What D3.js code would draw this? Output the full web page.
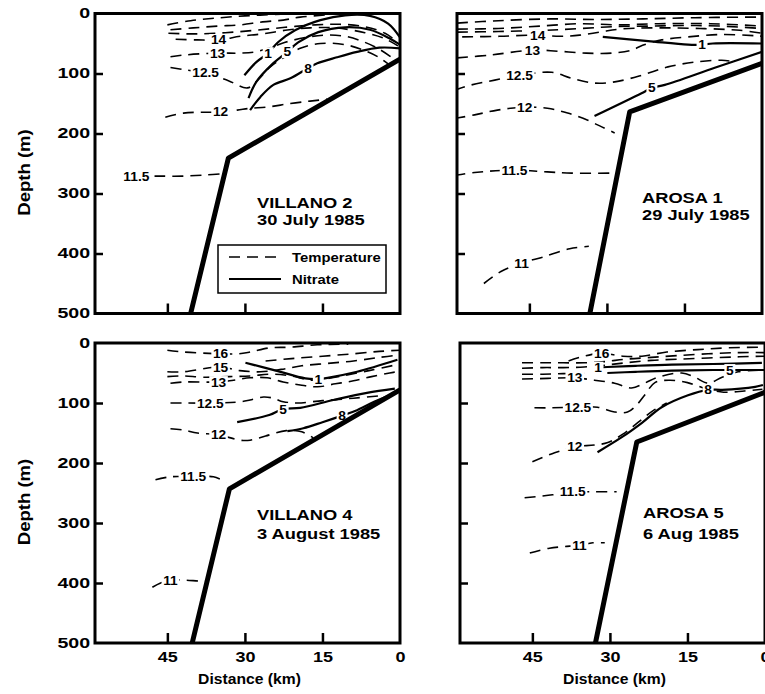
<!DOCTYPE html>
<html>
<head>
<meta charset="utf-8">
<script src="https://cdn.jsdelivr.net/npm/d3@7"></script>
<style>
  body { margin: 0; background: #fff; }
  text { font-family: "Liberation Sans", Arial, sans-serif; font-weight: bold; fill: #000; }
</style>
</head>
<body>
<svg id="chart"></svg>
<script>
// ticks y textos
const distanceTicks = [45, 30, 15, 0];
const depthTicks = [0, 100, 200, 300, 400, 500];
const panelNames = ["VILLANO 2", "AROSA 1", "VILLANO 4", "AROSA 5"];
const panelDates = ["30 July 1985", "29 July 1985", "3 August 1985", "6 Aug 1985"];
const legendItems = ["Temperature", "Nitrate"];

// fondo: [distancia km, profundidad m]
const villano2Bottom = [[40.5, 500], [33.2, 241], [0, 76]];
const arosa1Bottom = [[33.3, 500], [25.6, 164], [0, 83]];
const villano4Bottom = [[40.2, 500], [33, 243], [0, 78]];
const arosa5Bottom = [[32.8, 500], [24.8, 165], [0, 82]];

// isolineas: [etiqueta, punto de la etiqueta, puntos]
const villano2Temp = [
  ["", -1, [[45, 19], [40.5, 12], [36, 8], [30, 4], [23, 1]]],
  ["", -1, [[44.4, 27], [40, 24], [35.3, 21], [30.9, 19], [26.6, 14], [22.6, 11], [19.3, 6], [13.5, 2]]],
  ["", -1, [[44.8, 33], [39.6, 34], [33.8, 32], [28, 28], [22.2, 23], [16.4, 19], [11.6, 18], [6.8, 22], [2.9, 33], [0.4, 48]]],
  ["14", 2, [[43.4, 43], [39.2, 44], [35.1, 44], [30.9, 38], [26.6, 34], [22.2, 28], [17.4, 24], [12.5, 24], [6.8, 32], [2.9, 42], [0.4, 54]]],
  ["13", 2, [[44.4, 72], [41.5, 69], [35.3, 66], [30.9, 66], [28, 64], [25.5, 58], [22.2, 48], [18.3, 40], [14.5, 36], [10.6, 38], [6.8, 48], [3.9, 60], [1.8, 72]]],
  ["12.5", 2, [[44.4, 90], [41.5, 94], [37.6, 99], [33.2, 112], [29.5, 124], [27.4, 110], [25.1, 89], [22.2, 72], [19.3, 58], [15.4, 50], [10.6, 52], [6.8, 62], [3.9, 74], [2.3, 84]]],
  ["12", 2, [[45.4, 173], [41.9, 166], [34.7, 164], [31.5, 161], [29, 158], [25.7, 156], [21.2, 150], [17.4, 146], [14.1, 143]]],
  ["11.5", 0, [[51, 271], [47, 271], [42, 271], [37.5, 269], [34.2, 267]]]
];
const villano2Nitrate = [
  ["1", 2, [[30.1, 103], [27.8, 81], [25.5, 66], [23.6, 48], [20.3, 28], [15.4, 11], [10.6, 3], [5.8, 4], [2.3, 17], [0, 40]]],
  ["5", 3, [[29.3, 141], [27.8, 114], [24.9, 86], [21.8, 64], [19.7, 48], [15.8, 31], [10.6, 23], [5.8, 27], [1.9, 42], [0, 52]]],
  ["8", 4, [[29, 161], [27, 139], [24.5, 119], [21.2, 108], [17.8, 91], [16, 83], [12.2, 73], [8.3, 64], [4, 57], [0, 58]]]
];

const arosa1Temp = [
  ["", -1, [[59, 16], [51, 12], [41, 9], [32, 10], [23, 9], [13, 7], [2, 6], [0, 6]]],
  ["", -1, [[59, 26], [51, 25], [43, 21], [35, 17], [28, 19], [20, 17], [10, 17], [0, 21]]],
  ["", -1, [[59, 31], [51, 30], [42, 28], [35, 25], [29, 22], [22, 21], [15, 20], [8, 21], [0, 25]]],
  ["14", 2, [[58, 39], [50.8, 38], [43.4, 36], [39.1, 38], [35.3, 36], [31.4, 31], [27.5, 26], [21.7, 24], [12, 25], [4.3, 28], [0, 33]]],
  ["13", 2, [[59, 74], [52.3, 69], [44.4, 61], [39.2, 63], [34, 66], [29, 66], [25.2, 61], [23.1, 53], [19.4, 44], [14.3, 39], [7.8, 35], [1.4, 37], [0, 38]]],
  ["12.5", 3, [[59.5, 128], [56.2, 119], [51.7, 111], [46.9, 103], [40.7, 98], [36.8, 108], [32.4, 116], [28.5, 114], [23.3, 103], [18.2, 89], [13, 81], [7.8, 78], [5.8, 80]]],
  ["12", 3, [[59.5, 175], [55.6, 169], [51.2, 161], [45.9, 156], [41.5, 158], [37.6, 166], [33.7, 178], [31, 189], [28.5, 199]]],
  ["11.5", 2, [[59.5, 270], [55.6, 265], [47.9, 261], [41.5, 264], [36.8, 266], [29.5, 266]]],
  ["11", 2, [[53.8, 450], [50.5, 430], [46.5, 416], [42.4, 406], [37.2, 392], [33.5, 388]]]
];
const arosa1Nitrate = [
  ["1", 3, [[30.8, 39], [22, 46], [14.3, 52], [11.6, 52], [9.5, 50], [0, 50]]],
  ["5", 2, [[32.4, 171], [23.3, 133], [21.3, 124], [18.8, 119], [9, 90], [0, 64]]]
];

const villano4Temp = [
  ["16", 2, [[45, 12], [41.9, 15], [34.7, 18], [31.3, 18], [29, 15], [25.1, 8], [21.2, 7], [16, 3], [10, 2]]],
  ["", -1, [[26, 30], [21, 26], [15, 22], [9, 18], [4, 14], [0, 12]]],
  ["15", 2, [[45, 48], [41.9, 48], [34.7, 40], [31, 46], [27, 48], [23, 44], [19, 38], [14, 34], [9, 30], [4, 24], [0, 20]]],
  ["", -1, [[45, 56], [42, 55], [38, 57], [33, 56], [29, 55], [25, 52], [21, 55], [17, 62], [12, 56], [6, 46], [0, 35]]],
  ["13", 2, [[44.4, 67], [41.9, 65], [35.1, 65], [32.2, 62], [29, 58], [25.7, 58], [22.6, 65], [19.3, 70], [16, 73], [12.5, 68], [9, 63], [5.5, 56], [2, 50], [0, 47]]],
  ["12.5", 2, [[44.4, 100], [41.9, 100], [36.7, 100], [30.9, 98], [29, 95], [26.4, 90], [24.5, 92], [22.6, 98], [19.9, 100], [15, 96], [9, 92], [4, 88]]],
  ["12", 3, [[44.4, 143], [41.9, 145], [39.2, 150], [35.1, 153], [30.9, 162], [29, 162], [26, 155], [22, 146], [19, 148], [16.8, 158]]],
  ["11.5", 2, [[47.3, 228], [44.4, 223], [40, 223], [36.1, 223], [33.6, 232]]],
  ["11", 2, [[47.9, 407], [46.3, 400], [44.4, 395], [41.9, 395], [38.6, 397], [37.6, 397]]]
];
const villano4Nitrate = [
  ["1", 3, [[29.9, 33], [24, 46], [18.3, 59], [15.8, 60], [14, 58], [8.3, 48], [0.5, 28]]],
  ["5", 2, [[31.5, 132], [25.3, 120], [22.6, 110], [19.3, 108], [12.9, 95], [6.4, 83], [1, 76]]],
  ["8", 3, [[21.8, 147], [18.7, 142], [15, 132], [11.2, 121], [8.3, 112], [5, 98], [2, 87]]]
];

const arosa5Temp = [
  ["16", 2, [[38, 30], [35, 22], [31.6, 17], [27.5, 22], [23.8, 22], [19, 15], [13, 11], [7, 8], [0, 7]]],
  ["", -1, [[47, 33], [43, 33], [39, 33], [35, 33], [31, 31], [27, 27], [22, 24], [17, 21], [11, 18], [5, 16], [0, 16]]],
  ["", -1, [[47, 42], [43, 41], [39, 41], [35, 40], [31, 37], [27, 33], [22, 29], [17, 27], [11, 25], [5, 23], [0, 22]]],
  ["", -1, [[47, 52], [43, 52], [39, 51], [35, 50]]],
  ["13", 2, [[47, 60], [42, 59], [36.8, 58], [33, 62], [29.1, 67], [25.8, 75], [23.3, 67], [20.7, 57], [16.1, 50], [13.6, 57], [11, 67], [8.3, 57], [5.2, 48], [0.6, 45]]],
  ["12.5", 2, [[44.6, 108], [41.3, 108], [36.2, 107], [32.4, 107], [29.1, 115], [26.6, 115], [24.8, 103], [23.3, 87], [21.3, 66], [18.5, 62], [15, 66], [11.5, 76], [8, 82], [4, 80], [0.5, 77]]],
  ["12", 2, [[45, 198], [40.7, 183], [36.8, 173], [33, 170], [30.4, 166], [27.5, 152], [24.5, 132], [21.5, 112], [19, 100]]],
  ["11.5", 2, [[46.5, 258], [41.1, 253], [37.2, 248], [32.9, 248], [28.7, 248]]],
  ["11", 2, [[45.5, 350], [41.7, 342], [35.9, 337], [33.3, 333], [31, 333]]]
];
const arosa5Nitrate = [
  ["1", 0, [[32.3, 41], [30.5, 40], [25, 38], [18, 36], [10, 35], [0.6, 33]]],
  ["5", 4, [[30.5, 50], [25, 48], [18, 46], [10, 45], [6.8, 45], [3, 45], [0, 45]]],
  ["8", 5, [[32.4, 182], [27.7, 157], [23.8, 133], [20, 107], [14.9, 87], [11, 78], [8.3, 78], [1.9, 73], [0.4, 70]]]
];

// Tamaño
const width = 765;
const height = 694;
const panelW = 305;
const panelH = 300;

const svg = d3.select("#chart")
  .attr("width", width)
  .attr("height", height);

const panels = [
  { left: 95, top: 13.5, bottom: villano2Bottom, temp: villano2Temp, nitrate: villano2Nitrate,
    titleX: 162, titleY: 194.5, dateY: 211.5, yLabels: true, xLabels: false, legend: true },
  { left: 457, top: 13.5, bottom: arosa1Bottom, temp: arosa1Temp, nitrate: arosa1Nitrate,
    titleX: 185, titleY: 189.5, dateY: 206.5, yLabels: false, xLabels: false, legend: false },
  { left: 95, top: 343, bottom: villano4Bottom, temp: villano4Temp, nitrate: villano4Nitrate,
    titleX: 162, titleY: 177, dateY: 195.5, yLabels: true, xLabels: true, legend: false },
  { left: 460, top: 343, bottom: arosa5Bottom, temp: arosa5Temp, nitrate: arosa5Nitrate,
    titleX: 183, titleY: 175, dateY: 195.5, yLabels: false, xLabels: true, legend: false }
];

function drawPanel(p, i) {
  const x = d3.scaleLinear().domain([59, 0]).range([p.left, p.left + panelW]);
  const y = d3.scaleLinear().domain([0, 500]).range([p.top, p.top + panelH]);
  const g = svg.append("g");

  g.append("clipPath").attr("id", "clip" + i)
    .append("rect")
    .attr("x", p.left).attr("y", p.top)
    .attr("width", panelW).attr("height", panelH);

  const inner = g.append("g").attr("clip-path", `url(#clip${i})`);

  const smooth = d3.line()
    .x(d => x(d[0]))
    .y(d => y(d[1]))
    .curve(d3.curveCatmullRom.alpha(0.5));

  // temperatura (discontinua)
  inner.selectAll("path.temp")
    .data(p.temp)
    .enter()
    .append("path")
    .attr("class", "temp")
    .attr("d", d => smooth(d[2]))
    .attr("fill", "none")
    .attr("stroke", "#000")
    .attr("stroke-width", 1.6)
    .attr("stroke-dasharray", "11,7");

  // nitrato (continua)
  inner.selectAll("path.nit")
    .data(p.nitrate)
    .enter()
    .append("path")
    .attr("class", "nit")
    .attr("d", d => smooth(d[2]))
    .attr("fill", "none")
    .attr("stroke", "#000")
    .attr("stroke-width", 2.2);

  // etiquetas de las isolineas, con fondo blanco que corta la linea
  const labelled = p.temp.concat(p.nitrate).filter(d => d[1] >= 0);
  const labs = inner.selectAll("g.lab")
    .data(labelled)
    .enter()
    .append("g")
    .attr("class", "lab")
    .attr("transform", d => `translate(${x(d[2][d[1]][0])},${y(d[2][d[1]][1])}) scale(1.1,1)`);

  labs.append("text")
    .attr("text-anchor", "middle")
    .attr("dy", "0.36em")
    .attr("font-size", 12.5)
    .text(d => d[0]);

  labs.each(function () {
    const b = d3.select(this).select("text").node().getBBox();
    d3.select(this).insert("rect", "text")
      .attr("x", b.x - 1.5).attr("y", b.y + 1)
      .attr("width", b.width + 3).attr("height", b.height - 2)
      .attr("fill", "#fff");
  });

  // fondo marino
  inner.append("path")
    .attr("d", d3.line().x(d => x(d[0])).y(d => y(d[1]))(p.bottom))
    .attr("fill", "none")
    .attr("stroke", "#000")
    .attr("stroke-width", 5)
    .attr("stroke-linejoin", "round");

  // ticks interiores
  g.append("g")
    .attr("transform", `translate(0,${p.top + panelH})`)
    .call(d3.axisBottom(x).tickValues(distanceTicks.slice(0, 3)).tickSizeInner(-10).tickSizeOuter(0).tickFormat(""))
    .call(a => a.select(".domain").remove())
    .selectAll("line").attr("stroke-width", 2.5);

  g.append("g")
    .attr("transform", `translate(${p.left},0)`)
    .call(d3.axisLeft(y).tickValues(depthTicks.slice(1, 5)).tickSizeInner(-8).tickSizeOuter(0).tickFormat(""))
    .call(a => a.select(".domain").remove())
    .selectAll("line").attr("stroke-width", 2.5);

  if (p.yLabels) {
    g.append("g")
      .attr("transform", `translate(${p.left},0)`)
      .call(d3.axisLeft(y).tickValues(depthTicks).tickSize(0).tickPadding(3.5))
      .call(a => a.select(".domain").remove())
      .selectAll("text")
      .attr("font-size", 14)
      .attr("font-family", null)
      .attr("transform", "scale(1.4,1)");

    g.append("text")
      .attr("transform", `translate(30,${p.top + panelH / 2 + 9}) rotate(-90) scale(1.16,1)`)
      .attr("text-anchor", "middle")
      .attr("font-size", 16)
      .text("Depth (m)");
  }

  if (p.xLabels) {
    g.append("g")
      .attr("transform", `translate(0,${p.top + panelH})`)
      .call(d3.axisBottom(x).tickValues(distanceTicks).tickSize(0).tickPadding(8))
      .call(a => a.select(".domain").remove())
      .selectAll("text")
      .attr("font-size", 15)
      .attr("font-family", null)
      .attr("transform", "scale(1.2,1)");

    g.append("text")
      .attr("transform", `translate(${p.left + panelW / 2 + 2},${p.top + panelH + 41}) scale(1.12,1)`)
      .attr("text-anchor", "middle")
      .attr("font-size", 14)
      .text("Distance (km)");
  }

  // marco
  g.append("rect")
    .attr("x", p.left).attr("y", p.top)
    .attr("width", panelW).attr("height", panelH)
    .attr("fill", "none")
    .attr("stroke", "#000")
    .attr("stroke-width", 3);

  // titulo
  g.append("text")
    .attr("transform", `translate(${p.left + p.titleX},${p.top + p.titleY}) scale(1.18,1)`)
    .attr("font-size", 15.5)
    .text(panelNames[i]);
  g.append("text")
    .attr("transform", `translate(${p.left + p.titleX},${p.top + p.dateY}) scale(1.18,1)`)
    .attr("font-size", 15.5)
    .text(panelDates[i]);

  if (p.legend) {
    const lx = p.left + 123, ly = p.top + 231.5;
    const lg = g.append("g").attr("transform", `translate(${lx},${ly})`);
    lg.append("rect")
      .attr("width", 168).attr("height", 48)
      .attr("fill", "#fff").attr("stroke", "#000").attr("stroke-width", 1.5);
    lg.selectAll("line")
      .data(legendItems)
      .enter()
      .append("line")
      .attr("x1", 11).attr("x2", 63)
      .attr("y1", (d, k) => 12 + k * 22).attr("y2", (d, k) => 12 + k * 22)
      .attr("stroke", "#000")
      .attr("stroke-width", (d, k) => k ? 2 : 1.6)
      .attr("stroke-dasharray", (d, k) => k ? null : "11,7");
    lg.selectAll("text")
      .data(legendItems)
      .enter()
      .append("text")
      .attr("transform", (d, k) => `translate(74,${17 + k * 22}) scale(1.1,1)`)
      .attr("font-size", 13.5)
      .text(d => d);
  }
}

panels.forEach(drawPanel);
</script>
</body>
</html>
